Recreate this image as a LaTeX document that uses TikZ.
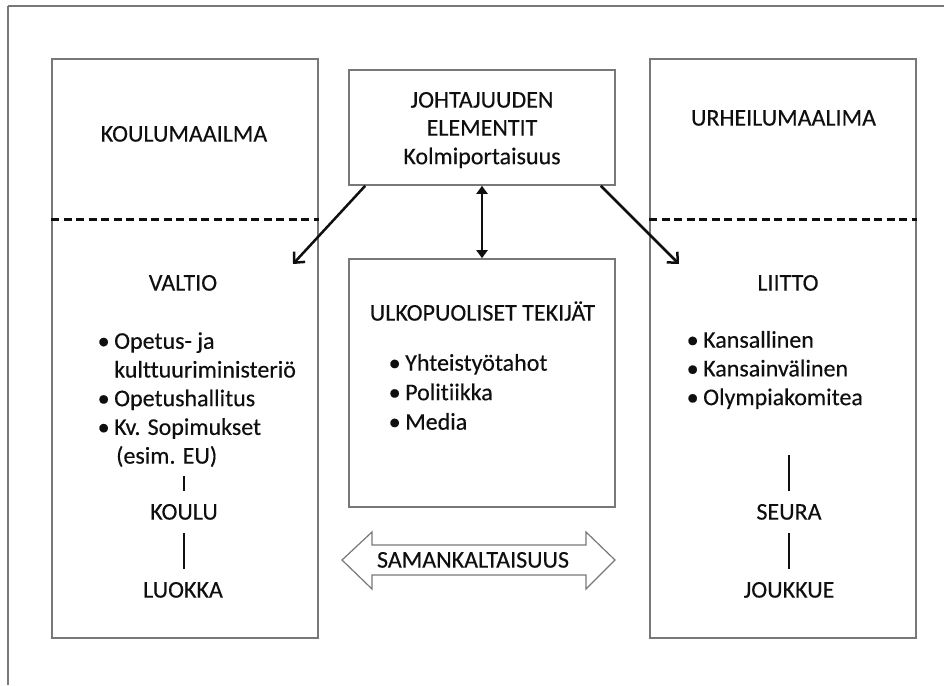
\documentclass[tikz,border=0pt]{standalone}
\usepackage{fontspec}
\setmainfont{Carlito}[Ligatures=NoCommon, FakeBold=0.3]
\usetikzlibrary{arrows.meta}
\definecolor{edgegray}{RGB}{120,120,120}
\definecolor{ink}{RGB}{15,15,15}
\newcommand\itemdot{\makebox[13.5pt][l]{\hspace{-3pt}•}}

\begin{document}
\begin{tikzpicture}[x=1pt,y=-1pt,
  every node/.style={font=\fontsize{24}{29}\selectfont, text=ink},
  box/.style={draw=edgegray, line width=1.6pt, minimum width=266pt, inner sep=0pt},
  lbl/.style={anchor=base, inner sep=0pt},
  item/.style={anchor=base west, inner sep=0pt},
  lvl/.style={anchor=base, inner xsep=0pt, inner ysep=13.5pt, text height=15pt, text depth=0pt},
  bar/.style={line width=2.6pt, draw=ink},
  divider/.style={line width=3pt, draw=ink, dash pattern=on 8pt off 4.5pt},
  link/.style={line width=2.5pt, draw=ink, -{Straight Barb[length=8pt, width=15pt, line width=2.5pt]}},
  twoway/.style={line width=2.5pt, draw=ink, {Triangle[length=8pt, width=11pt]}-{Triangle[length=8pt, width=11pt]}},
  bigarrow/.style={draw=edgegray, line width=1.2pt, fill=white}
]
\useasboundingbox (0,0) rectangle (944,685);

% outer frame (top and left edges)
\draw[edgegray, line width=1.6pt] (8,6) -- (944,6);
\draw[edgegray, line width=1.6pt] (8,6) -- (8,685);

% boxes
\node[box, minimum height=579pt] (lbox) at (185,348.5) {};
\node[box, minimum height=579pt] (rbox) at (783,348.5) {};
\node[box, minimum height=115pt] (johto) at (482,127.5) {};
\node[box, minimum height=248pt] (ulko) at (482,383) {};

% dashed dividers
\draw[divider] ([yshift=129.5pt]lbox.west) -- ([yshift=129.5pt]lbox.east);
\draw[divider] ([yshift=129.5pt]rbox.west) -- ([yshift=129.5pt]rbox.east);

% top box text
\node[lbl] (t1) at (482,107.6) {JOHTAJUUDEN};
\node[lbl] (t2) at (482,135.6) {ELEMENTIT};
\node[lbl] (t3) at (482,164.2) {Kolmiportaisuus};

% left column
\node[lbl] (koulumaailma) at (184,141.6) {KOULUMAAILMA};
\node[lbl] (valtio) at (183,290.6) {VALTIO};
\node[item] (v1) at (100.5,348.8) {\itemdot Opetus- ja};
\node[item] (v1b) at (114,377.5) {kulttuuriministeriö};
\node[item] (v2) at (100.5,406.2) {\itemdot Opetushallitus};
\node[item] (v3) at (100.5,434.9) {\itemdot Kv. Sopimukset};
\node[item] (v3b) at (116,463.6) {(esim. EU)};
\node[lvl] (koulu) at (184,519.6) {KOULU};
\node[lvl] (luokka) at (183,597.6) {LUOKKA};
\draw[bar] (koulu.north) -- ++(0,-15);
\draw[bar] (koulu.south) -- (koulu.south |- luokka.north);

% right column
\node[lbl] (urheilu) at (783.5,125.6) {URHEILUMAALIMA};
\node[lbl] (liitto) at (788,290.6) {LIITTO};
\node[item] (k1) at (689.5,347.7) {\itemdot Kansallinen};
\node[item] (k2) at (689.5,376.4) {\itemdot Kansainvälinen};
\node[item] (k3) at (689.5,405.1) {\itemdot Olympiakomitea};
\node[lvl] (seura) at (789,519.6) {SEURA};
\node[lvl] (joukkue) at (789,597.6) {JOUKKUE};
\draw[bar] (seura.north) -- ++(0,-36);
\draw[bar] (seura.south) -- (seura.south |- joukkue.north);

% middle box text
\node[lbl] (ulkoteksti) at (482.5,320.6) {ULKOPUOLISET TEKIJÄT};
\node[item] (u1) at (391.5,370.7) {\itemdot Yhteistyötahot};
\node[item] (u2) at (391.5,400.2) {\itemdot Politiikka};
\node[item] (u3) at (391.5,429.7) {\itemdot Media};

% connectors
\coordinate (tipL) at (293,264);
\coordinate (tipR) at (679,264);
\draw[link] ([xshift=17pt]johto.south west) -- (tipL);
\draw[link] ([xshift=-15pt]johto.south east) -- (tipR);
\draw[twoway] (johto.south) -- (ulko.north);

% similarity arrow
\draw[bigarrow] (342,560) -- (372,532) -- (372,545) -- (586,545) -- (586,532)
  -- (615,560) -- (586,589) -- (586,575) -- (372,575) -- (372,589) -- cycle;
\node[lbl] (saman) at (473,567.6) {SAMANKALTAISUUS};
\end{tikzpicture}
\end{document}
